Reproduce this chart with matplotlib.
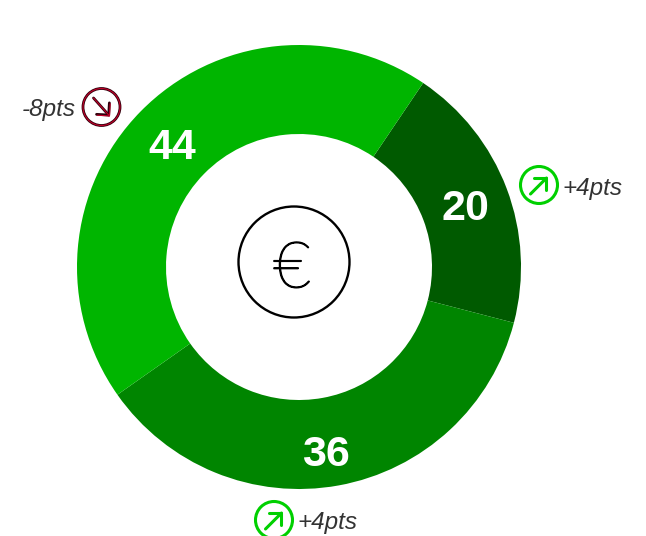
import matplotlib
matplotlib.use("Agg")
import matplotlib.pyplot as plt
import matplotlib.patheffects as pe
from matplotlib.patches import Circle

values = [19.6, 36.2, 44.2]
labels = ["20", "36", "44"]
colors = ["#005a00", "#008500", "#00b500"]
changes = ["+4pts", "+4pts", "-8pts"]

W, H = 646, 536
HEAD = "->,head_length=0.62,head_width=0.62"


def py(y):
    # picture y (from the top) to axes y
    return H - y


def arrow(ax, tip, tail, color, lw):
    ax.annotate("", xy=(tip[0], py(tip[1])), xytext=(tail[0], py(tail[1])),
                arrowprops=dict(arrowstyle=HEAD, color=color, lw=lw, shrinkA=0, shrinkB=0), zorder=4)


def trend_icon(ax, cx, cy, up):
    r = 18.5
    if up:
        ax.add_patch(Circle((cx, py(cy)), r, fc="white", ec="#00d000", lw=2.2, zorder=3))
        arrow(ax, (cx + 9, cy - 8.5), (cx - 8.5, cy + 9), "#00d000", 2.2)
    else:
        tip, tail = (cx + 8.5, cy + 9.5), (cx - 8, cy - 9)
        ax.add_patch(Circle((cx, py(cy)), r, fc="white", ec="#30000c", lw=2, zorder=3))
        ax.add_patch(Circle((cx, py(cy)), r, fc="none", ec="#c00028", lw=0.8, zorder=3))
        arrow(ax, tip, tail, "#30000c", 2)
        arrow(ax, tip, tail, "#c00028", 0.8)


fig = plt.figure(figsize=(W / 100, H / 100), dpi=100)
ax = fig.add_axes([0, 0, 1, 1])

ax.pie(values, colors=colors, startangle=56, counterclock=False, center=(299, py(267)),
       radius=222, wedgeprops=dict(width=89), frame=True)
ax.set_xlim(0, W)
ax.set_ylim(0, H)
ax.set_aspect("equal")
ax.axis("off")

# slice numbers
label_pos = [(465, 209), (326, 455), (172, 148)]
for text, (x, y) in zip(labels, label_pos):
    ax.text(x, py(y), text, color="white", fontsize=31, fontweight="bold",
            family="Liberation Sans", ha="center", va="center")

# centre icon
ax.add_patch(Circle((294, py(262)), 55.5, fc="white", ec="black", lw=1.7))
ax.text(292, py(270), "€", fontsize=46, family="Lato", fontweight="light", color="black",
        ha="center", va="center", path_effects=[pe.withStroke(linewidth=1.1, foreground="black")])

# change markers next to the ring
icon_pos = [(539, 185, True), (274, 520, True), (101.5, 107, False)]
text_pos = [(562, 188.5, "left"), (297, 522.5, "left"), (76, 109.5, "right")]
for change, (ix, iy, up), (tx, ty, align) in zip(changes, icon_pos, text_pos):
    trend_icon(ax, ix, iy, up)
    ax.text(tx, py(ty), change, color="#333333", fontsize=17.5, style="italic",
            family="Liberation Sans", ha=align, va="center")

fig.savefig("out.png", dpi=100)
